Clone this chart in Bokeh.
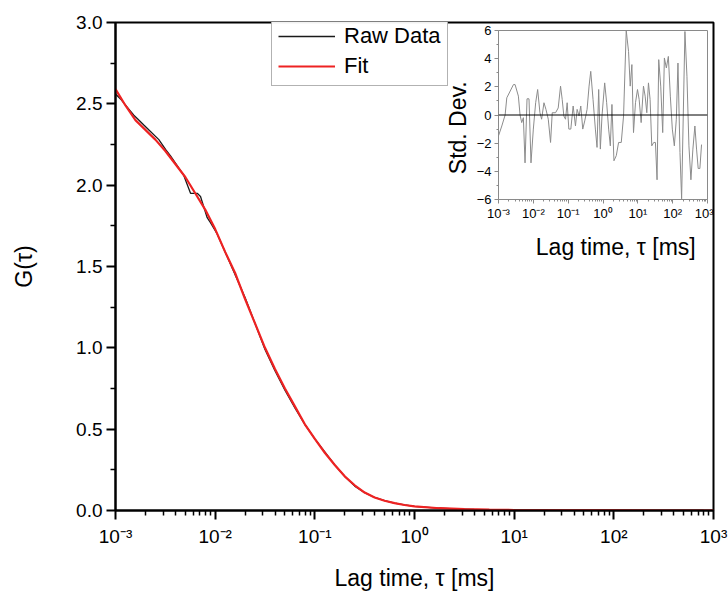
from bokeh.plotting import figure
from bokeh.models import FixedTicker, PrintfTickFormatter, Legend, LegendItem, Span
from bokeh.embed import file_html
from bokeh.resources import INLINE

FONT = "Liberation Sans"
NB = "\u00a0"

# ---- data ----
fit_log_tau = [-3.0, -2.9, -2.8, -2.7, -2.6, -2.5, -2.4, -2.3, -2.2, -2.1, -2.0, -1.9, -1.8,
               -1.7, -1.6, -1.5, -1.4, -1.3, -1.2, -1.1, -1.0, -0.9, -0.8, -0.7, -0.6, -0.5,
               -0.4, -0.3, -0.2, -0.1, 0.0, 0.25, 0.5, 0.75, 1.0, 1.5, 2.0, 2.5, 3.0]
fit_g = [2.59, 2.49, 2.40, 2.34, 2.28, 2.21, 2.13, 2.05, 1.95, 1.85, 1.73, 1.59, 1.46,
         1.30, 1.15, 1.00, 0.87, 0.75, 0.64, 0.53, 0.44, 0.355, 0.28, 0.21, 0.155, 0.11,
         0.08, 0.06, 0.045, 0.034, 0.025, 0.014, 0.008, 0.005, 0.003, 0.001, 0.0005, 0.0, 0.0]

raw_log_tau = [-3.0, -2.95, -2.883, -2.816, -2.782, -2.716, -2.649, -2.565, -2.498, -2.448,
               -2.381, -2.315, -2.247, -2.18, -2.147, -2.08, -2.047, -1.98, -1.879, -1.8,
               -1.7, -1.6, -1.5, -1.4, -1.3, -1.2, -1.1, -1.0, -0.9, -0.8, -0.7, -0.6, -0.5,
               -0.4, -0.3, -0.2, -0.1, 0.0, 0.2, 0.4, 0.6, 0.8, 1.0, 1.5, 2.0, 2.5, 2.9]
raw_g = [2.56, 2.53, 2.48, 2.43, 2.41, 2.37, 2.33, 2.28, 2.22, 2.18,
         2.12, 2.06, 1.95, 1.95, 1.93, 1.80, 1.77, 1.70, 1.56, 1.45,
         1.31, 1.15, 0.99, 0.86, 0.74, 0.63, 0.53, 0.44, 0.36, 0.28, 0.21, 0.15, 0.11,
         0.08, 0.06, 0.045, 0.034, 0.025, 0.016, 0.010, 0.006, 0.004, 0.003, 0.001, 0.0, 0.0, 0.0]

res_log_tau = [-3.0, -2.905, -2.81, -2.762, -2.571, -2.524, -2.429, -2.381, -2.333, -2.286,
               -2.238, -2.181, -2.124, -2.067, -2.0, -1.933, -1.876, -1.81, -1.762, -1.695,
               -1.638, -1.571, -1.505, -1.457, -1.362, -1.286, -1.219, -1.171, -1.124, -1.076,
               -1.029, -0.981, -0.924, -0.857, -0.79, -0.743, -0.686, -0.638, -0.581, -0.524,
               -0.457, -0.4, -0.352, -0.286, -0.219, -0.171, -0.124, -0.076, -0.029, 0.048,
               0.105, 0.162, 0.21, 0.257, 0.314, 0.381, 0.448, 0.524, 0.59, 0.667,
               0.733, 0.781, 0.829, 0.876, 0.933, 0.99, 1.038, 1.095, 1.162, 1.21,
               1.257, 1.305, 1.352, 1.4, 1.457, 1.505, 1.552, 1.6, 1.657, 1.714,
               1.762, 1.819, 1.876, 1.933, 1.99, 2.048, 2.105, 2.152, 2.21, 2.257,
               2.352, 2.41, 2.467, 2.524, 2.581, 2.638, 2.686, 2.733, 2.781, 2.829]
res_dev = [-1.48, -0.78, 0.0, 1.22, 2.16, 2.16, 1.34, 0.0, -0.54, -0.19,
           -3.4, 1.15, 1.15, -3.4, -1.0, 0.87, 1.81, 0.16, -0.3, 0.87,
           0.4, -0.3, -1.95, 0.16, 0.16, 0.5, 2.05, 1.1, -0.07, -0.3,
           0.87, -1.0, -1.0, 0.64, -0.78, 0.4, -0.07, 0.64, -1.0, -0.42,
           0.4, 2.05, 3.1, 1.1, -1.0, -2.3, 1.81, -2.42, -0.07, 2.28,
           0.87, -1.0, -2.19, 0.75, -3.25, -2.89, -1.95, -1.95, -0.07, 6.0,
           4.52, 2.05, 3.58, -1.25, 0.87, 1.81, 1.1, -0.54, 2.05, 1.34,
           0.16, 2.28, 1.1, -2.19, -1.95, -1.95, -4.6, 3.93, 2.05, -1.25,
           4.05, 3.34, 4.16, 1.34, -1.0, -2.19, -0.3, 3.69, -2.66, -5.95,
           5.93, 2.75, -2.19, -4.6, -2.42, -0.78, -2.42, -3.8, -3.8, -2.1]

decades = [1e-3, 1e-2, 1e-1, 1, 10, 100, 1000]
decade_labels = ["10⁻³", "10⁻²", "10⁻¹", "10⁰", "10¹", "10²", "10³"]
g_ticks = [0.0, 0.5, 1.0, 1.5, 2.0, 2.5, 3.0]
g_minor = [0.25, 0.75, 1.25, 1.75, 2.25, 2.75]
dev_ticks = [-6, -4, -2, 0, 2, 4, 6]
dev_minor = [-5, -3, -1, 1, 3, 5]

log_minor = [m * d for d in decades[:-1] for m in range(2, 10)]
overrides = {d: lab for d, lab in zip(decades, decade_labels)}

# ---- main figure ----
p = figure(x_axis_type="log", x_range=(1e-3, 1e3), y_range=(0, 3),
           width=728, height=594,
           min_border_left=115, min_border_right=15, min_border_top=22, min_border_bottom=84,
           output_backend="svg", toolbar_location=None)
p.grid.visible = False
p.outline_line_color = "black"
p.outline_line_width = 2
p.background_fill_color = "white"

r_raw = p.line([10 ** e for e in raw_log_tau], raw_g, line_color="#1a1a1a", line_width=1.3)
r_fit = p.line([10 ** e for e in fit_log_tau], fit_g, line_color="#ee2222", line_width=2.2)

p.xaxis.ticker = FixedTicker(ticks=decades, minor_ticks=log_minor)
p.xaxis.major_label_overrides = overrides
p.yaxis.ticker = FixedTicker(ticks=g_ticks, minor_ticks=g_minor)
p.yaxis.formatter = PrintfTickFormatter(format="%.1f")
for ax in (p.xaxis[0], p.yaxis[0]):
    ax.axis_line_width = 2
    ax.axis_line_color = "black"
    ax.major_tick_line_width = 2
    ax.minor_tick_line_width = 1.5
    ax.major_tick_out = 9
    ax.major_tick_in = 0
    ax.minor_tick_out = 5
    ax.minor_tick_in = 0
    ax.major_label_text_font = FONT
    ax.major_label_text_font_size = "19px"
    ax.major_label_text_color = "black"
    ax.axis_label_text_font = FONT
    ax.axis_label_text_font_size = "23px"
    ax.axis_label_text_font_style = "normal"
    ax.axis_label_text_color = "black"
p.xaxis.axis_label = "Lag time, τ [ms]"
p.yaxis.axis_label = "G(τ)"
p.xaxis.major_label_standoff = 6
p.xaxis.axis_label_standoff = 15
p.yaxis.major_label_standoff = 4
p.yaxis.axis_label_standoff = 36

legend = Legend(items=[LegendItem(label="Raw Data", renderers=[r_raw]),
                       LegendItem(label="Fit", renderers=[r_fit])],
                location=(156, 488 - 64))
legend.border_line_color = "#666666"
legend.border_line_width = 1
legend.label_text_font = FONT
legend.label_text_font_size = "22px"
legend.label_text_color = "black"
legend.glyph_width = 57
legend.glyph_height = 24
legend.label_height = 24
legend.label_standoff = 9
legend.padding = 6
legend.spacing = 4
legend.margin = 0
p.add_layout(legend)

# ---- inset figure ----
ins = figure(x_axis_type="log", x_range=(1e-3, 1e3), y_range=(-6, 6),
             width=272, height=245, sizing_mode="fixed",
             min_border_left=56, min_border_right=6, min_border_top=13, min_border_bottom=62,
             output_backend="svg", toolbar_location=None)
ins.background_fill_alpha = 0
ins.border_fill_alpha = 0
ins.grid.visible = False
ins.outline_line_color = "#8a8a8a"
ins.outline_line_width = 1
ins.add_layout(Span(location=0, dimension="width", line_color="black", line_width=1))
ins.line([10 ** e for e in res_log_tau], res_dev, line_color="#8c8c8c", line_width=1)

ins.xaxis.ticker = FixedTicker(ticks=decades, minor_ticks=log_minor)
ins.xaxis.major_label_overrides = overrides
ins.yaxis.ticker = FixedTicker(ticks=dev_ticks, minor_ticks=dev_minor)
for ax in (ins.xaxis[0], ins.yaxis[0]):
    ax.axis_line_color = "#8a8a8a"
    ax.axis_line_width = 1
    ax.major_tick_line_color = "#8a8a8a"
    ax.minor_tick_line_color = "#8a8a8a"
    ax.major_tick_out = 4
    ax.major_tick_in = 0
    ax.minor_tick_out = 2
    ax.minor_tick_in = 0
    ax.major_label_text_font = FONT
    ax.major_label_text_font_size = "13px"
    ax.major_label_text_color = "black"
    ax.axis_label_text_font = FONT
    ax.axis_label_text_font_size = "23px"
    ax.axis_label_text_font_style = "normal"
    ax.axis_label_text_color = "black"
ins.xaxis.major_label_standoff = 2
ins.yaxis.major_label_standoff = 3
ins.xaxis.axis_label = NB * 4 + "Lag time, τ [ms]"
ins.yaxis.axis_label = "Std. Dev." + NB * 4
ins.xaxis.axis_label_standoff = 10
ins.yaxis.axis_label_standoff = 3
ins.styles = {"position": "absolute", "left": "441px", "top": "17px", "z-index": "5"}

open("out.html", "w").write(file_html([p, ins], INLINE))
